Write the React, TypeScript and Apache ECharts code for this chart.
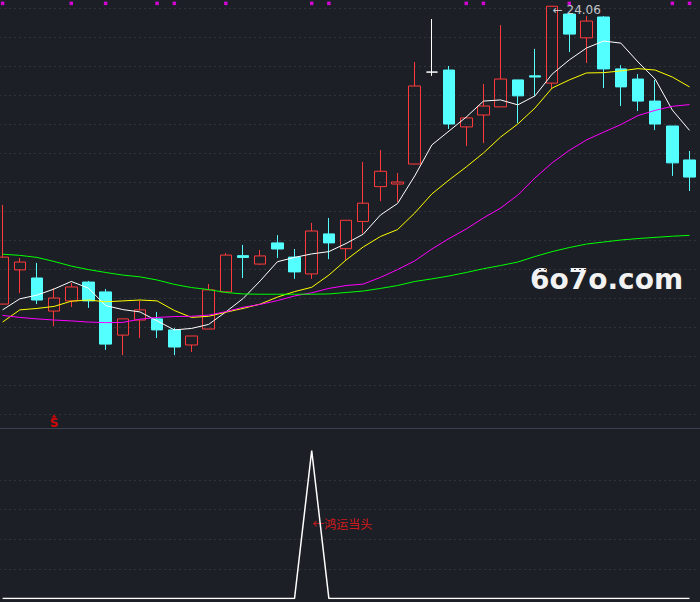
import React, { useEffect, useRef } from "react";
import * as echarts from "echarts";

const categories = [
  "D01","D02","D03","D04","D05","D06","D07","D08","D09","D10",
  "D11","D12","D13","D14","D15","D16","D17","D18","D19","D20",
  "D21","D22","D23","D24","D25","D26","D27","D28","D29","D30",
  "D31","D32","D33","D34","D35","D36","D37","D38","D39","D40","D41",
];

const opens = [13.79,14.97,14.69,13.55,13.90,14.55,14.21,12.72,13.24,13.28,12.90,12.38,12.93,14.21,15.46,15.17,15.90,15.41,14.83,16.21,15.70,16.64,17.84,17.93,18.62,21.79,21.86,19.90,20.31,20.59,21.52,21.66,21.41,23.79,22.97,23.69,21.90,21.55,20.79,19.93,18.76];
const closes = [15.41,15.24,13.93,14.00,14.38,13.90,12.41,13.28,13.59,12.90,12.31,12.69,14.28,15.48,15.40,15.45,15.69,14.90,16.31,15.90,16.68,17.27,18.37,18.00,21.31,21.79,20.00,20.21,20.62,21.55,20.97,21.62,24.06,23.10,23.55,21.90,21.28,20.79,20.00,18.66,18.17];
const lows = [13.78,14.17,13.79,13.03,13.69,13.66,12.21,12.03,12.62,12.62,12.03,12.14,12.93,14.21,14.69,15.14,15.38,14.66,14.66,15.34,15.31,16.23,17.34,17.32,18.61,21.66,19.83,19.24,19.34,20.59,20.03,20.97,21.21,22.48,22.10,21.24,20.62,20.45,19.79,18.21,17.69];
const highs = [17.21,15.38,15.21,14.34,14.52,14.59,14.31,13.28,13.90,13.52,12.97,12.69,14.48,15.55,15.83,15.66,16.17,15.69,16.59,16.76,16.69,18.69,19.10,18.31,22.14,23.62,22.00,20.25,21.38,23.41,21.52,22.59,24.06,23.79,23.72,23.72,22.03,21.72,21.52,19.93,19.07];

const ma5 = [13.59,13.97,14.10,14.31,14.57,14.34,13.74,13.60,13.52,13.21,12.90,12.95,13.09,13.52,13.98,14.59,15.25,15.40,15.52,15.60,15.88,16.20,16.86,17.26,18.21,19.28,19.76,20.24,20.79,20.83,20.66,20.97,21.72,22.21,22.62,22.86,22.79,22.14,21.55,20.48,19.78];
const ma10 = [13.17,13.59,13.64,13.71,13.89,13.93,13.87,13.90,13.93,13.90,13.57,13.33,13.37,13.51,13.64,13.79,14.03,14.22,14.37,14.79,15.31,15.76,16.12,16.36,16.93,17.59,18.07,18.52,19.00,19.55,20.00,20.55,21.24,21.52,21.76,21.77,21.83,21.91,21.86,21.62,21.28];
const ma20 = [13.40,13.33,13.28,13.24,13.21,13.17,13.15,13.16,13.27,13.33,13.36,13.37,13.41,13.53,13.68,13.78,13.91,14.07,14.18,14.33,14.43,14.48,14.71,14.98,15.28,15.69,16.05,16.38,16.76,17.10,17.55,18.14,18.66,19.09,19.45,19.72,19.98,20.29,20.47,20.61,20.67];
const ma60 = [15.51,15.47,15.40,15.26,15.10,14.98,14.88,14.79,14.73,14.62,14.47,14.36,14.29,14.19,14.14,14.13,14.13,14.13,14.13,14.14,14.19,14.24,14.33,14.43,14.57,14.66,14.76,14.88,15.01,15.12,15.24,15.43,15.60,15.74,15.86,15.93,16.00,16.05,16.09,16.13,16.16];

// top magenta markers (candle indices)
const topMarks = [0, 4, 6, 9, 10, 13, 18, 19, 27, 28, 33, 39, 40];
// "S" signal candle indices
const sMarks = [3];
// lower indicator
const signal = [0,0,0,0,0,0,0,0,0,0,0,0,0,0,0,0,0,0,5,0,0,0,0,0,0,0,0,0,0,0,0,0,0,0,0,0,0,0,0,0,0];
const signalText = "←鸿运当头";
const signalIndex = 18;
const signalTextLevel = 2.53;

const priceTicks = { min: 10, max: 24, interval: 1 };
const lowerTicks = { min: 0, max: 5, interval: 1 };

const BG = "#1c1f26";
const GRID = "#30343c";
const UP = "#ff3a3a";
const DOWN = "#54ffff";
const SHIFT = 6; // chart canvas starts left of the page to cut the first candle in half

export default function App() {
  const ref = useRef<HTMLDivElement>(null);
  useEffect(() => {
    document.body.style.margin = "0";
    document.body.style.background = BG;
    document.body.style.overflow = "hidden";
    const chart = echarts.init(ref.current!, null, { renderer: "svg" });

    const kData = opens.map((o, i) => [o, closes[i], lows[i], highs[i]]);
    let peakIdx = 0;
    highs.forEach((h, i) => { if (h > highs[peakIdx]) peakIdx = i; });
    const peak = highs[peakIdx];

    const dashed = { color: GRID, type: [2, 3] as any, width: 1 };
    const hideAxis = { axisLine: { show: false }, axisTick: { show: false }, axisLabel: { show: false } };

    const line = (name: string, data: number[], color: string) => ({
      name, type: "line", data, xAxisIndex: 0, yAxisIndex: 0,
      symbol: "none", silent: true, clip: false,
      lineStyle: { color, width: 1 }, z: 3,
    });

    const option: any = {
      animation: false,
      backgroundColor: BG,
      grid: [
        { left: 0, right: 1.9, top: 8, height: 406 },
        { left: 0, right: 1.9, top: 450.5, height: 148 },
      ],
      xAxis: [
        { type: "category", gridIndex: 0, data: categories, show: false },
        { type: "category", gridIndex: 1, data: categories, show: false },
      ],
      yAxis: [
        { type: "value", gridIndex: 0, ...priceTicks, ...hideAxis,
          splitLine: { show: true, lineStyle: dashed } },
        { type: "value", gridIndex: 1, ...lowerTicks, ...hideAxis,
          splitLine: { show: true, showMinLine: false, showMaxLine: false, lineStyle: dashed } },
      ],
      series: [
        {
          type: "candlestick", data: kData, xAxisIndex: 0, yAxisIndex: 0,
          barWidth: 12, clip: false, silent: true, z: 2,
          itemStyle: {
            color: "rgba(0,0,0,0)", color0: DOWN,
            borderColor: UP, borderColor0: DOWN, borderColorDoji: "#ffffff",
            borderWidth: 1,
          },
        },
        line("MA5", ma5, "#ffffff"),
        line("MA10", ma10, "#ffff00"),
        line("MA20", ma20, "#ff00ff"),
        line("MA60", ma60, "#00ff00"),
        {
          type: "scatter", xAxisIndex: 0, yAxisIndex: 0, clip: false, silent: true,
          symbol: "rect", symbolSize: 3.5, itemStyle: { color: "#ff00ff" },
          data: topMarks.map((i) => [i, 24.16]), z: 4,
        },
        {
          type: "scatter", xAxisIndex: 0, yAxisIndex: 0, clip: false, silent: true,
          symbol: "triangle", symbolSize: [5, 3], itemStyle: { color: "#ff0000" },
          data: sMarks.map((i) => [i, 9.93]), z: 4,
          label: { show: true, formatter: "S", position: "bottom", distance: -1,
            color: "#ff0000", fontSize: 12, fontWeight: "bold", fontFamily: "DejaVu Sans" },
        },
        {
          type: "scatter", xAxisIndex: 0, yAxisIndex: 0, clip: false, silent: true,
          symbol: "circle", symbolSize: 1, itemStyle: { color: "rgba(0,0,0,0)" },
          data: [[peakIdx, peak]], z: 5,
          label: { show: true, position: "right", distance: 0, offset: [0, 3.5],
            formatter: () => `← ${peak.toFixed(2)}`,
            color: "#eef1f5", fontSize: 12, fontFamily: "DejaVu Sans" },
        },
        {
          type: "line", data: signal, xAxisIndex: 1, yAxisIndex: 1, symbol: "none",
          silent: true, lineStyle: { color: "#ffffff", width: 1.5 },
        },
        {
          type: "scatter", xAxisIndex: 1, yAxisIndex: 1, clip: false, silent: true,
          symbol: "circle", symbolSize: 1, itemStyle: { color: "rgba(0,0,0,0)" },
          data: [[signalIndex, signalTextLevel]],
          label: { show: true, position: "right", distance: 0, formatter: signalText,
            color: "#ff1a1a", fontSize: 12, fontFamily: "Noto Sans CJK SC" },
        },
      ],
      graphic: [
        { type: "line", shape: { x1: 0, y1: 428.5, x2: 700 + SHIFT, y2: 428.5 },
          style: { stroke: "#3a4250", lineWidth: 1 }, silent: true },
        { type: "text", x: 530 + SHIFT, y: 279, silent: true,
          style: { text: "6o7o.com", fill: "#f2f2f2", font: "bold 28px 'DejaVu Sans'",
            textAlign: "left", textVerticalAlign: "middle" } },
      ],
    };
    chart.setOption(option);
    return () => chart.dispose();
  }, []);
  return (
    <div
      ref={ref}
      style={{ position: "fixed", left: -SHIFT, top: 0, width: 700 + SHIFT, height: 602 }}
    />
  );
}
